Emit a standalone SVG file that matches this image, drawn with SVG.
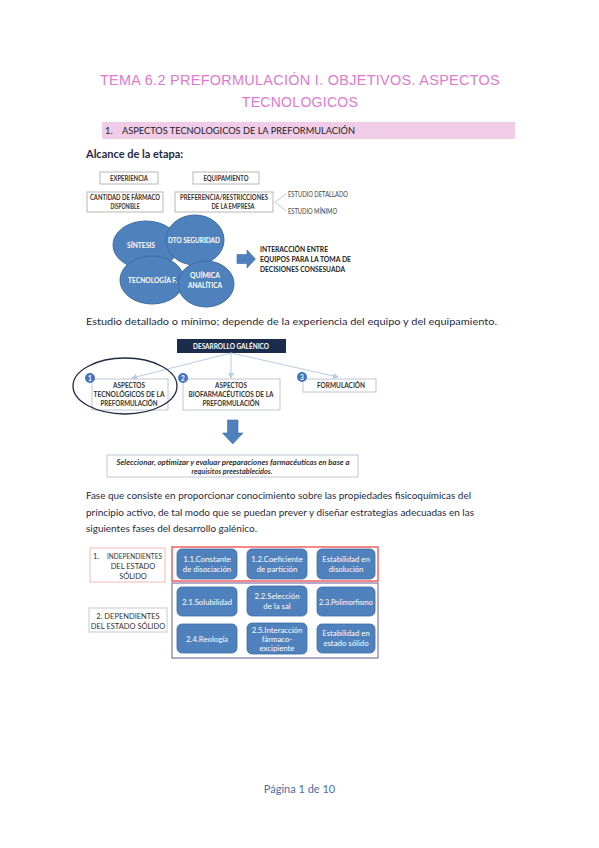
<svg xmlns="http://www.w3.org/2000/svg" width="599" height="848" viewBox="0 0 599 848">
<style>
text{font-family:Lato,"Open Sans","Liberation Sans",sans-serif}
.title{font-family:"Liberation Sans",sans-serif;font-size:14px;fill:#df79cf;text-anchor:middle;letter-spacing:0.3px}
.body{font-size:10.3px;fill:#1f2a44}
.lbl{font-size:6.9px;font-weight:bold;fill:#333;text-anchor:middle}
.box{fill:#fff;stroke:#a6a6a6;stroke-width:0.8}
.bub{fill:#4f81bd;stroke:#3d6ca5;stroke-width:1}
.bt{font-size:7.4px;font-weight:bold;fill:#fff;text-anchor:middle}
.rr{fill:#4f81bd;stroke:#3d6ca5;stroke-width:0.8}
.rt{font-size:7.8px;fill:#fff;text-anchor:middle}
.conn{stroke:#b8cce4;stroke-width:1;fill:none}
.num{fill:#4472c4}
.nt{font-size:6.5px;font-weight:bold;fill:#fff;text-anchor:middle}
.it{font-size:7.4px;font-weight:bold;fill:#222}
.side{font-size:7.5px;fill:#333;text-anchor:middle}
</style>
<defs>
<marker id="ah" markerWidth="6" markerHeight="6" refX="5" refY="3" orient="auto" markerUnits="userSpaceOnUse">
<path d="M0,0 L6,3 L0,6 z" fill="#b8cce4"/>
</marker>
</defs>
<rect width="599" height="848" fill="#fff"/>

<g id="title">
<text class="title" x="300" y="85" textLength="400" lengthAdjust="spacingAndGlyphs">TEMA 6.2 PREFORMULACIÓN I. OBJETIVOS. ASPECTOS</text>
<text class="title" x="300" y="107">TECNOLOGICOS</text>
</g>

<g id="section-header">
<rect x="102" y="122" width="413" height="17" fill="#f0cce8"/>
<text x="105" y="134" style="font-size:9.3px;fill:#222">1.</text>
<text x="122" y="134" style="font-size:9.3px;fill:#222" textLength="233" lengthAdjust="spacingAndGlyphs">ASPECTOS TECNOLOGICOS DE LA PREFORMULACIÓN</text>
</g>

<text x="86" y="158" style="font-size:11px;font-weight:bold;fill:#1f2a44">Alcance de la etapa:</text>

<g id="experiencia">
<rect class="box" x="100" y="172" width="58" height="12"/>
<text class="lbl" x="129" y="180.5" textLength="38" lengthAdjust="spacingAndGlyphs">EXPERIENCIA</text>
</g>
<g id="equipamiento">
<rect class="box" x="193" y="172" width="66" height="12"/>
<text class="lbl" x="226" y="180.5" textLength="45" lengthAdjust="spacingAndGlyphs">EQUIPAMIENTO</text>
</g>
<g id="cantidad">
<rect class="box" x="87" y="192" width="76" height="20"/>
<text class="lbl" x="125" y="200" textLength="70" lengthAdjust="spacingAndGlyphs">CANTIDAD DE FÁRMACO</text>
<text class="lbl" x="125" y="208.5" textLength="29" lengthAdjust="spacingAndGlyphs">DISPONIBLE</text>
</g>
<g id="preferencia">
<rect class="box" x="175" y="192" width="98" height="20"/>
<text class="lbl" x="224" y="200" textLength="88" lengthAdjust="spacingAndGlyphs">PREFERENCIA/RESTRICCIONES</text>
<text class="lbl" x="233" y="208.5" textLength="43" lengthAdjust="spacingAndGlyphs">DE LA EMPRESA</text>
</g>
<g id="estudio-detallado">
<text x="288" y="197" style="font-size:6.6px;fill:#444" textLength="60" lengthAdjust="spacingAndGlyphs">ESTUDIO DETALLADO</text>
</g>
<g id="estudio-minimo">
<text x="288" y="213.5" style="font-size:6.6px;fill:#444" textLength="49" lengthAdjust="spacingAndGlyphs">ESTUDIO MÍNIMO</text>
</g>

<g id="sintesis">
<ellipse class="bub" cx="146" cy="245" rx="33" ry="24"/>
<text class="bt" x="141" y="248" textLength="28" lengthAdjust="spacingAndGlyphs">SÍNTESIS</text>
</g>
<g id="dto-seguridad">
<ellipse class="bub" cx="195" cy="240" rx="29" ry="25"/>
<text class="bt" x="194" y="243" textLength="52" lengthAdjust="spacingAndGlyphs">DTO SEGURIDAD</text>
</g>
<g id="tecnologia">
<ellipse class="bub" cx="152" cy="280" rx="32" ry="24"/>
<text class="bt" x="152.5" y="283" textLength="49" lengthAdjust="spacingAndGlyphs">TECNOLOGÍA F.</text>
</g>
<g id="quimica">
<ellipse class="bub" cx="206" cy="284" rx="28" ry="23"/>
<text class="bt" x="205" y="278" textLength="30" lengthAdjust="spacingAndGlyphs">QUÍMICA</text>
<text class="bt" x="205" y="287.5" textLength="34" lengthAdjust="spacingAndGlyphs">ANALÍTICA</text>
</g>
<g id="arrow-right">
<path d="M237,254.5 H247 V250 L255.5,259 L247,268 V263.5 H237 Z" fill="#4f81bd" stroke="#3d6ca5" stroke-width="0.6"/>
</g>
<g id="interaccion">
<text class="it" x="260" y="252" textLength="68" lengthAdjust="spacingAndGlyphs">INTERACCIÓN ENTRE</text>
<text class="it" x="260" y="262" textLength="91" lengthAdjust="spacingAndGlyphs">EQUIPOS PARA LA TOMA DE</text>
<text class="it" x="260" y="272" textLength="85" lengthAdjust="spacingAndGlyphs">DECISIONES CONSESUADA</text>
</g>

<text class="body" x="86" y="325" textLength="411" lengthAdjust="spacingAndGlyphs">Estudio detallado o mínimo; depende de la experiencia del equipo y del equipamiento.</text>

<g id="desarrollo">
<rect x="177" y="339" width="109" height="14" fill="#1c2c4c"/>
<text x="231" y="348.5" style="font-size:6.8px;font-weight:bold;fill:#fff;text-anchor:middle" textLength="76" lengthAdjust="spacingAndGlyphs">DESARROLLO GALÉNICO</text>
</g>

<g id="connectors">
<path class="conn" d="M231,353 L132,378" marker-end="url(#ah)"/>
<path class="conn" d="M231,353 L231,378" marker-end="url(#ah)"/>
<path class="conn" d="M231,353 L338,377" marker-end="url(#ah)"/>
<path class="conn" d="M275,202 L286,194"/>
<path class="conn" d="M275,202 L286,211"/>
</g>

<g id="aspectos-tec">
<rect class="box" x="92" y="379" width="76" height="31" style="stroke:#b0b8c8"/>
<circle class="num" cx="90" cy="378" r="5"/>
<text class="nt" x="90" y="380.5">1</text>
<text class="lbl" x="129" y="388" textLength="32" lengthAdjust="spacingAndGlyphs">ASPECTOS</text>
<text class="lbl" x="129" y="397" textLength="71" lengthAdjust="spacingAndGlyphs">TECNOLÓGICOS DE LA</text>
<text class="lbl" x="129" y="406" textLength="57" lengthAdjust="spacingAndGlyphs">PREFORMULACIÓN</text>
</g>
<g id="aspectos-bio">
<rect class="box" x="183" y="379" width="97" height="31" style="stroke:#b0b8c8"/>
<circle class="num" cx="183" cy="378" r="5"/>
<text class="nt" x="183" y="380.5">2</text>
<text class="lbl" x="231" y="388" textLength="32" lengthAdjust="spacingAndGlyphs">ASPECTOS</text>
<text class="lbl" x="231" y="397" textLength="85" lengthAdjust="spacingAndGlyphs">BIOFARMACÉUTICOS DE LA</text>
<text class="lbl" x="231" y="406" textLength="57" lengthAdjust="spacingAndGlyphs">PREFORMULACIÓN</text>
</g>
<g id="formulacion">
<rect class="box" x="303" y="379" width="73" height="13" style="stroke:#b0b8c8"/>
<circle class="num" cx="302" cy="377" r="5"/>
<text class="nt" x="302" y="379.5">3</text>
<text class="lbl" x="341" y="388" textLength="48" lengthAdjust="spacingAndGlyphs">FORMULACIÓN</text>
</g>
<ellipse cx="125" cy="386" rx="52" ry="28" fill="none" stroke="#1f2a44" stroke-width="1.3"/>

<g id="arrow-down">
<path d="M227.5,420 H238 V433 H243 L232.75,444 L222.5,433 H227.5 Z" fill="#4f81bd" stroke="#3d6ca5" stroke-width="0.6"/>
</g>
<g id="seleccionar">
<rect class="box" x="107" y="455" width="251" height="22" style="stroke:#b0b8c8"/>
<text x="233" y="464.5" style="font-size:7px;font-weight:bold;font-style:italic;fill:#333;text-anchor:middle" textLength="233" lengthAdjust="spacingAndGlyphs">Seleccionar, optimizar y evaluar preparaciones farmacéuticas en base a</text>
<text x="232" y="473.5" style="font-size:7px;font-weight:bold;font-style:italic;fill:#333;text-anchor:middle" textLength="81" lengthAdjust="spacingAndGlyphs">requisitos preestablecidos.</text>
</g>

<g id="paragraph">
<text class="body" x="86" y="499" textLength="385" lengthAdjust="spacingAndGlyphs">Fase que consiste en proporcionar conocimiento sobre las propiedades fisicoquímicas del</text>
<text class="body" x="86" y="515.5" textLength="388" lengthAdjust="spacingAndGlyphs">principio activo, de tal modo que se puedan prever y diseñar estrategias adecuadas en las</text>
<text class="body" x="86" y="532" textLength="171" lengthAdjust="spacingAndGlyphs">siguientes fases del desarrollo galénico.</text>
</g>

<g id="independientes">
<rect x="90" y="548" width="75" height="34" fill="#fff" stroke="#f4b8b8" stroke-width="1"/>
<text x="93" y="559" style="font-size:7.5px;fill:#333">1.</text>
<text class="side" x="134.5" y="559" textLength="55" lengthAdjust="spacingAndGlyphs">INDEPENDIENTES</text>
<text class="side" x="133" y="569">DEL ESTADO</text>
<text class="side" x="133" y="579">SÓLIDO</text>
</g>
<g id="dependientes">
<rect x="89" y="608" width="78" height="24" fill="#fff" stroke="#c4cad8" stroke-width="1"/>
<text class="side" x="128" y="619">2. DEPENDIENTES</text>
<text class="side" x="128" y="629">DEL ESTADO SÓLIDO</text>
</g>
<rect x="172" y="547" width="206" height="34" fill="none" stroke="#f05555" stroke-width="1.4"/>
<rect x="172" y="583" width="206" height="75" fill="none" stroke="#9488b4" stroke-width="1.4"/>

<g id="n11"><rect class="rr" x="177" y="549" width="60" height="30" rx="5"/><text class="rt" x="207" y="562">1.1.Constante</text><text class="rt" x="207" y="572">de disociación</text></g>
<g id="n12"><rect class="rr" x="247" y="549" width="60" height="30" rx="5"/><text class="rt" x="277" y="562">1.2.Coeficiente</text><text class="rt" x="277" y="572">de partición</text></g>
<g id="n13"><rect class="rr" x="317" y="549" width="58" height="30" rx="5"/><text class="rt" x="346" y="562">Estabilidad en</text><text class="rt" x="346" y="572">disolución</text></g>
<g id="n21"><rect class="rr" x="177" y="587" width="60" height="29" rx="5"/><text class="rt" x="207" y="604.5">2.1.Solubilidad</text></g>
<g id="n22"><rect class="rr" x="247" y="586" width="60" height="30" rx="5"/><text class="rt" x="277" y="599">2.2.Selección</text><text class="rt" x="277" y="609">de la sal</text></g>
<g id="n23"><rect class="rr" x="317" y="587" width="58" height="29" rx="5"/><text class="rt" x="346" y="604.5" textLength="54" lengthAdjust="spacingAndGlyphs">2.3.Polimorfismo</text></g>
<g id="n24"><rect class="rr" x="177" y="624" width="60" height="29" rx="5"/><text class="rt" x="207" y="641.5">2.4.Reología</text></g>
<g id="n25"><rect class="rr" x="247" y="623" width="60" height="31" rx="5"/><text class="rt" x="277" y="632.5">2.5.Interacción</text><text class="rt" x="277" y="641.5">fármaco-</text><text class="rt" x="277" y="650.5">excipiente</text></g>
<g id="n26"><rect class="rr" x="317" y="624" width="58" height="29" rx="5"/><text class="rt" x="346" y="636">Estabilidad en</text><text class="rt" x="346" y="646">estado sólido</text></g>

<text x="299.5" y="793" style="font-size:11px;fill:#4a6ea5;text-anchor:middle">Página 1 de 10</text>
</svg>
